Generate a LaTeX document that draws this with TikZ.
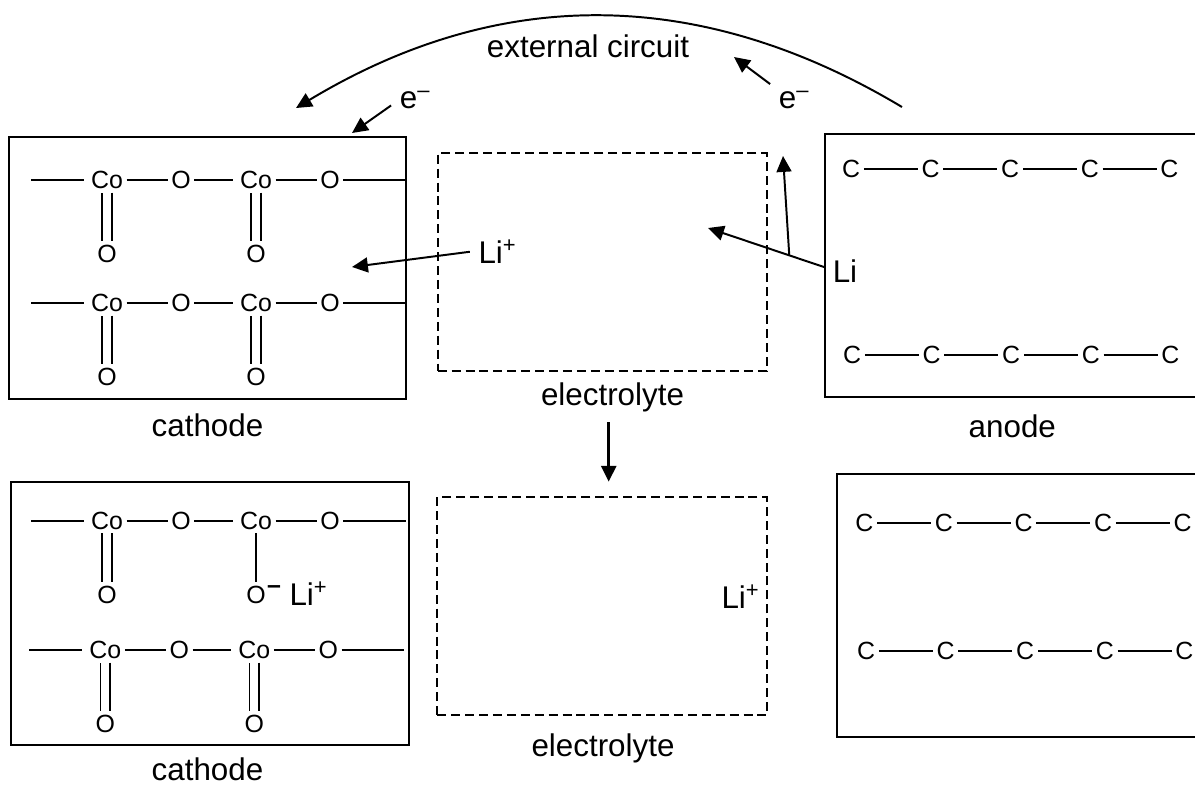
\documentclass[tikz,border=0pt]{standalone}
\usepackage{fontspec}
\setmainfont{Liberation Sans}
\usetikzlibrary{arrows.meta}
\newcommand{\oxiderow}[4]{
  \coordinate (#1s) at (#2-76,#3);
  \coordinate (#1e) at (#2+299,#3);
  \node[atom] (#1a) at (#2,#3) {Co};
  \node[atom] (#1b) at (#2+74,#3) {O};
  \node[atom] (#1c) at (#2+149,#3) {Co};
  \node[atom] (#1d) at (#2+223,#3) {O};
  \node[atom] (#1f) at (#2,#3+74) {O};
  \node[atom] (#1g) at (#2+149,#3+74) {O};
  \draw[bond] (#1s) -- ([xshift=-2.5pt]#1a.west);
  \draw[bond] (#1a) -- (#1b);
  \draw[bond] (#1b) -- ([xshift=-2.5pt]#1c.west);
  \draw[bond] (#1c) -- (#1d);
  \draw[bond] (#1d) -- (#1e);
  \draw[dbl] (#1a) -- (#1f);
  \draw[#4] (#1c) -- (#1g);
}
\newcommand{\carbonrow}[3]{
  \node[atom] (#1a) at (#2,#3) {C};
  \node[atom] (#1b) at (#2+79.6,#3) {C};
  \node[atom] (#1c) at (#2+159.2,#3) {C};
  \node[atom] (#1d) at (#2+238.8,#3) {C};
  \node[atom] (#1e) at (#2+318.4,#3) {C};
  \draw[bond] (#1a) -- (#1b);
  \draw[bond] (#1b) -- (#1c);
  \draw[bond] (#1c) -- (#1d);
  \draw[bond] (#1d) -- (#1e);
}
\begin{document}
\begin{tikzpicture}[x=0.025cm,y=-0.025cm,
  atom/.style={inner sep=2.5pt,text height=12.7pt,text depth=0pt,
    font=\fontsize{17.7}{20}\selectfont},
  lbl/.style={anchor=base,inner sep=0pt,font=\fontsize{22.3}{26}\selectfont},
  ion/.style={anchor=base,inner sep=6pt,text height=16pt,text depth=0pt,
    font=\fontsize{22.3}{26}\selectfont},
  panel/.style={draw,line width=1.4pt,inner sep=0pt},
  solvent/.style={draw,line width=1.4pt,inner sep=0pt,dash pattern=on 6.4pt off 3.5pt},
  bond/.style={line width=1.4pt},
  dbl/.style={line width=1.4pt,double,double distance=5.3pt},
  flow/.style={-{Triangle[length=11.3pt,width=10.6pt]},line width=1.4pt}]
\clip (0,0) rectangle (1195,785);

\node[panel,minimum width=9.925cm,minimum height=6.565cm] (cathodetop) at (207.5,268) {};
\node[panel,minimum width=9.935cm,minimum height=6.575cm] (cathodebot) at (210,613.5) {};
\node[panel,minimum width=9.75cm,minimum height=6.57cm] (anodetop) at (1020,265.3) {};
\node[panel,minimum width=9.46cm,minimum height=6.56cm] (anodebot) at (1025.85,605.5) {};
\node[solvent,minimum width=8.225cm,minimum height=5.435cm] (soltop) at (602.2,262) {};
\node[solvent,minimum width=8.235cm,minimum height=5.45cm] (solbot) at (602,606.3) {};

\oxiderow{ta}{107}{180}{dbl}
\oxiderow{tb}{107}{303}{dbl}
\oxiderow{ba}{107}{520.7}{bond}
\oxiderow{bb}{105.2}{650}{dbl}
\carbonrow{ca}{851}{169}
\carbonrow{cb}{852}{355}
\carbonrow{cc}{864.3}{522.7}
\carbonrow{cd}{866}{650.7}

\node[lbl] (cathodelbl) at (207.5,436) {cathode};
\node[lbl] (cathodelblb) at (207.5,780) {cathode};
\node[lbl] (anodelbl) at (1012.3,437) {anode};
\node[lbl] (sollbl) at (612.5,405) {electrolyte};
\node[lbl] (sollblb) at (603,756) {electrolyte};
\node[lbl] (circuit) at (588,57) {external circuit};

\node[ion] (ecat) at (415,108) {e\textsuperscript{\textendash}};
\node[ion] (eano) at (794,108) {e\textsuperscript{\textendash}};
\node[ion] (litop) at (497.5,263) {Li\textsuperscript{+}};
\node[ion] (lianode) at (845,282) {Li};
\node[lbl] (libot) at (740.5,608) {Li\textsuperscript{+}};
\node[lbl] (licat) at (308.5,605) {Li\textsuperscript{+}};
\node[inner sep=0pt,font=\fontsize{17.7}{20}\selectfont\bfseries] (ominus) at (274,590) {\textendash};

\coordinate (arcstart) at (902,107);
\coordinate (arcend) at (296,108);
\coordinate (ecattip) at (352,133);
\coordinate (eanotip) at (734,57);
\coordinate (litoptip) at (352,267);
\coordinate (lianotip) at (708,228);
\coordinate (liuptip) at (783,156);
\coordinate (downstart) at (608.7,422);
\coordinate (downend) at (608.7,481.7);

\draw[flow] (arcstart) to[bend right=31] (arcend);
\draw[flow] (ecat.200) -- (ecattip);
\draw[flow] (eano.152) -- (eanotip);
\draw[flow] (litop.west) -- (litoptip);
\draw[flow] (lianode.170) -- coordinate[pos=0.3] (libranch) (lianotip);
\draw[flow] (libranch) -- (liuptip);
\draw[flow,line width=2.2pt] (downstart) -- (downend);
\end{tikzpicture}
\end{document}
